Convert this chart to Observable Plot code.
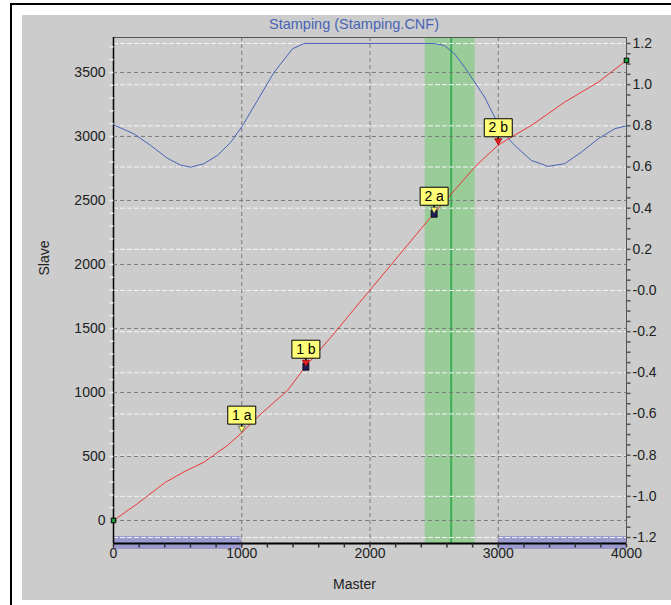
<!DOCTYPE html>
<html><head><meta charset="utf-8">
<script src="https://cdn.jsdelivr.net/npm/d3@7"></script>
<script src="https://cdn.jsdelivr.net/npm/@observablehq/plot@0.6"></script>
<style>
html,body{margin:0;padding:0;background:#fff;width:671px;height:605px;overflow:hidden;font-family:"Liberation Sans",Arial,sans-serif;}
#frame{position:absolute;left:10px;top:3px;width:700px;height:700px;border-left:2px solid #000;border-top:2px solid #000;}
#panel{position:absolute;left:22px;top:15px;width:660px;height:585px;background:#cccccc;}
#title{position:absolute;left:22px;width:664px;top:16px;line-height:17px;text-align:center;font-size:14.5px;color:#4a63b4;}
#chart{position:absolute;left:0;top:0;}
</style></head><body>
<div id="frame"></div><div id="panel"></div>
<div id="title">Stamping (Stamping.CNF)</div>
<div id="chart"></div>
<script>
// ---- data ----
const masterTicks = [0, 1000, 2000, 3000, 4000];
const slaveTicks = [0, 500, 1000, 1500, 2000, 2500, 3000, 3500];
const rightTicks = [1.2, 1.0, 0.8, 0.6, 0.4, 0.2, 0, -0.2, -0.4, -0.6, -0.8, -1.0, -1.2];
const rightTickLabels = ["1.2","1.0","0.8","0.6","0.4","0.2","-0.0","-0.2","-0.4","-0.6","-0.8","-1.0","-1.2"];
const slaveDomain = [-180, 3773];
const rightDomain = [-1.229, 1.229];

const redMaster = [0, 185, 406, 550, 705, 888, 1005, 1122, 1253, 1357, 1435, 1500, 1695, 2000, 2398, 2500, 2607, 2828, 2997, 3102, 3258, 3518, 3779, 4000];
const redSlave  = [0, 130, 299, 380, 455, 586, 690, 807, 924, 1016, 1120, 1205, 1432, 1800, 2279, 2400, 2521, 2773, 2930, 2995, 3086, 3268, 3424, 3594];

const blueMaster = [0, 159, 289, 419, 520, 602, 705, 810, 914, 1005, 1122, 1253, 1396, 1487, 2500, 2580, 2659, 2737, 2815, 2893, 2959, 3036, 3127, 3258, 3388, 3518, 3648, 3779, 3909, 4000];
const blueValue  = [0.805, 0.761, 0.705, 0.643, 0.61, 0.599, 0.616, 0.656, 0.72, 0.80, 0.923, 1.061, 1.174, 1.2, 1.2, 1.19, 1.15, 1.085, 1.013, 0.94, 0.858, 0.77, 0.705, 0.632, 0.603, 0.616, 0.672, 0.737, 0.786, 0.80];

const greenBand = [[2430, 2820]];
const greenLine = [2633];
const purpleRanges = [[0, 1000], [3000, 4000]];

const markerLabel  = ["1 a", "1 b", "2 a", "2 b"];
const markerMaster = [1000, 1500, 2500, 3000];
const markerSlave  = [690, 1205, 2400, 2935];
const markerActive = [false, true, true, false];

// ---- helpers ----
const toSlave = v => slaveDomain[0] + (v - rightDomain[0]) / (rightDomain[1] - rightDomain[0]) * (slaveDomain[1] - slaveDomain[0]);
const red = redMaster.map((m, i) => ({m, s: redSlave[i]}));
const blue = blueMaster.map((m, i) => ({m, s: toSlave(blueValue[i])}));
const markers = markerLabel.map((label, i) => ({label, m: markerMaster[i], s: markerSlave[i], active: markerActive[i]}));
const ends = [red[0], red[red.length - 1]];

const slaveMinor = d3.range(0, slaveDomain[1], 100);
const rightMinor = d3.range(-24, 25).map(k => k * 0.05);
const masterMinor = d3.range(0, 4001, 200);

const tickLeft = {draw(c){ c.moveTo(-4, 0); c.lineTo(0, 0); }};
const tickRight = {draw(c){ c.moveTo(0, 0); c.lineTo(4, 0); }};
const tickDown = {draw(c){ c.moveTo(0, 0); c.lineTo(0, 4); }};
const triDown = {draw(c){ c.moveTo(-3.5, -6); c.lineTo(3.5, -6); c.lineTo(0, 0); c.closePath(); }};
const labelBox = {draw(c){ c.rect(-14, -26, 28, 18); }};
const stem = {draw(c){ c.moveTo(0, -8); c.lineTo(0, -6); }};
const selSquare = {draw(c){ c.rect(-3, -3, 6, 7); }};

const chart = Plot.plot({
  width: 671, height: 605,
  marginLeft: 113, marginRight: 45, marginTop: 37, marginBottom: 62,
  x: {domain: [0, 4000], axis: null},
  y: {domain: slaveDomain, axis: null},
  style: {background: "transparent", fontFamily: "'Liberation Sans', Arial, sans-serif", fontSize: "14px", overflow: "visible"},
  marks: [
    Plot.rect(greenBand, {x1: d => d[0], x2: d => d[1], fill: "#99cc99"}),
    Plot.rect(purpleRanges, {x1: d => d[0], x2: d => d[1], fill: "#9a9acc", insetTop: 499, insetBottom: -6}),
    Plot.ruleX(greenLine, {stroke: "#3caf55", strokeWidth: 2}),
    Plot.ruleY(rightTicks, {y: d => toSlave(d), stroke: "#f4f4f4", strokeDasharray: "5,2"}),
    Plot.ruleY(slaveTicks, {stroke: "#7a7a7a", strokeDasharray: "4,3"}),
    Plot.ruleX(masterTicks.filter(d => d > 0 && d < 4000), {stroke: "#7a7a7a", strokeDasharray: "4,3"}),
    // frame
    Plot.ruleY([slaveDomain[1]], {stroke: "#555"}),
    Plot.ruleX([4000], {stroke: "#555"}),
    Plot.ruleX([0], {stroke: "#000", strokeWidth: 1.5}),
    Plot.ruleY([slaveDomain[0]], {stroke: "#000", strokeWidth: 2}),
    // ticks
    Plot.dot(slaveMinor, {y: d => d, frameAnchor: "left", symbol: tickLeft, stroke: "#f0f0f0", fill: "none"}),
    Plot.dot(rightMinor, {y: d => toSlave(d), frameAnchor: "right", symbol: tickRight, stroke: "#555", fill: "none"}),
    Plot.dot(masterMinor, {x: d => d, frameAnchor: "bottom", symbol: tickDown, stroke: "#333", fill: "none"}),
    // tick labels
    Plot.text(slaveTicks, {y: d => d, frameAnchor: "left", dx: -8, textAnchor: "end", text: d => String(d), fill: "#222", fontSize: 14}),
    Plot.text(rightTicks, {y: d => toSlave(d), frameAnchor: "right", dx: 6, textAnchor: "start", text: (d, i) => rightTickLabels[i], fill: "#222", fontSize: 14}),
    Plot.text(masterTicks, {x: d => d, frameAnchor: "bottom", dy: 14.5, text: d => String(d), fill: "#222", fontSize: 14}),
    Plot.text(["Slave"], {frameAnchor: "left", dx: -69, dy: -15, rotate: -90, text: d => d, fill: "#222", fontSize: 14}),
    Plot.text(["Master"], {frameAnchor: "bottom", dx: -15.5, dy: 45, text: d => d, fill: "#222", fontSize: 14}),
    // curves
    Plot.line(blue, {x: "m", y: "s", stroke: "#4664b9", strokeWidth: 1}),
    Plot.line(red, {x: "m", y: "s", stroke: "#ec3636", strokeWidth: 1}),
    Plot.dot(ends, {x: "m", y: "s", symbol: "square", r: 2.6, fill: "#1e9b3c", stroke: "#000", strokeWidth: 1}),
    // markers
    Plot.dot(markers.filter(d => d.active), {x: "m", y: "s", symbol: selSquare, fill: "#1c1c5a", stroke: "#000", strokeWidth: 0.8}),
    Plot.dot(markers.filter(d => d.label.endsWith("a")), {x: "m", y: "s", symbol: triDown, fill: "#ffff66", stroke: "#555", strokeWidth: 0.8}),
    Plot.dot(markers.filter(d => d.label.endsWith("b")), {x: "m", y: "s", symbol: triDown, fill: "#e81e1e", stroke: "#a00", strokeWidth: 0.8}),
    Plot.dot(markers, {x: "m", y: "s", symbol: stem, stroke: "#000", fill: "none"}),
    Plot.dot(markers, {x: "m", y: "s", symbol: labelBox, fill: "#ffff77", stroke: "#000", strokeWidth: 1}),
    Plot.text(markers, {x: "m", y: "s", dy: -17, text: "label", fill: "#000", fontSize: 14})
  ]
});
document.getElementById("chart").appendChild(chart);
</script>
</body></html>
